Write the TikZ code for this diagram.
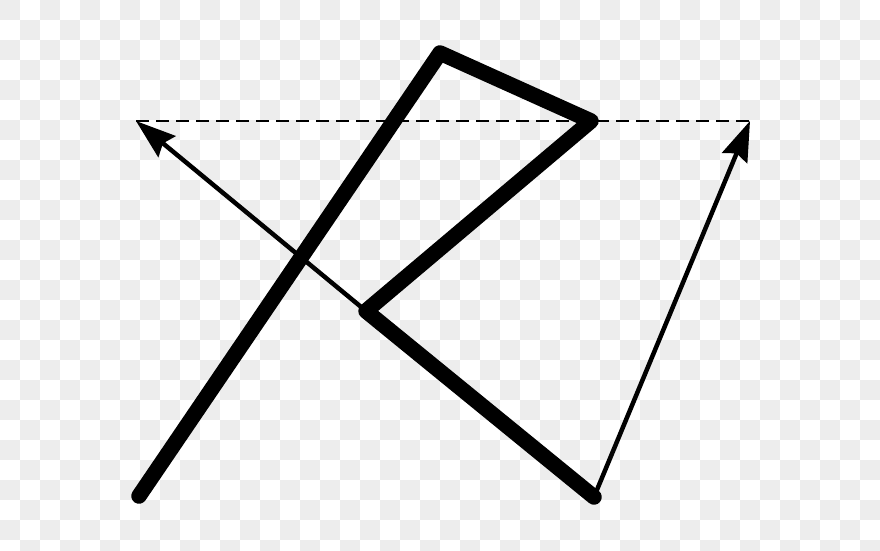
\documentclass[tikz,border=0pt]{standalone}
\usetikzlibrary{arrows.meta}

\definecolor{checker}{HTML}{EDEDED}

\begin{document}
\begin{tikzpicture}[x=1pt,y=-1pt,
    thickpath/.style={line width=15.5pt,line cap=round,line join=round},
    thinarrow/.style={line width=4.5pt,-{Stealth[length=40pt,width=27pt,inset=5pt]}},
    baseline/.style={line width=1.5pt,dash pattern=on 13pt off 7pt}]
      \useasboundingbox (0,0) rectangle (880,551);
      \clip (0,0) rectangle (880,551);
      % checkered background
      \fill[white] (0,0) rectangle (880,551);
      \foreach \j in {0,...,27} {
        \pgfmathtruncatemacro{\off}{mod(\j,2)}
        \foreach \i in {0,...,21}
          \fill[checker] ({(\off+2*\i)*20},{\j*20}) rectangle ++(20,20);
      }
      % corners of the figure
      \coordinate (start)  at (139,496);
      \coordinate (apex)   at (440,53);
      \coordinate (right)  at (591,121);
      \coordinate (mid)    at (366,311);
      \coordinate (bottom) at (594,497);
      \coordinate (ltip)   at (136,121);
      \coordinate (rtip)   at (750,121);

      \draw[baseline] (ltip) -- (rtip);
      \draw[thinarrow] (mid) -- (ltip);
      \draw[thinarrow] (bottom) -- (rtip);
      \draw[thickpath] (start) -- (apex) -- (right) -- (mid) -- (bottom);
    \end{tikzpicture}
\end{document}
